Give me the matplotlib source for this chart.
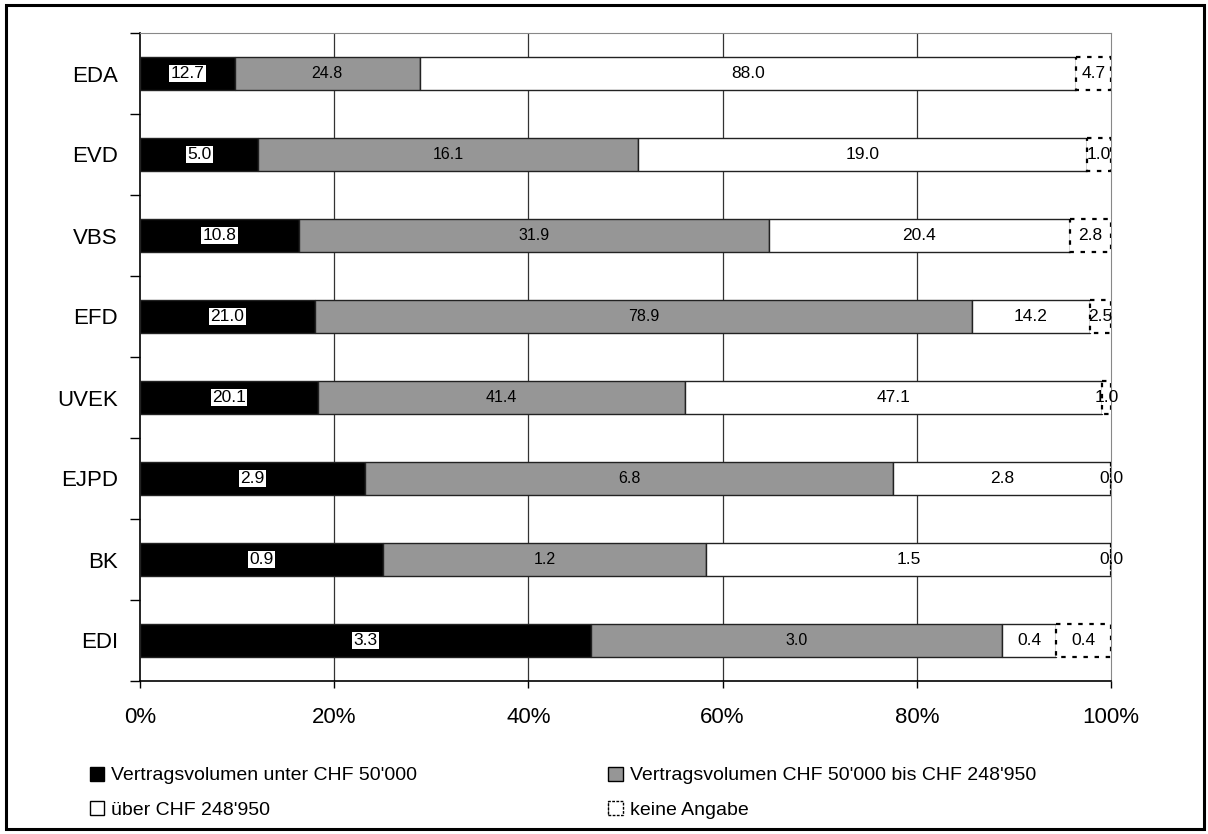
import numpy as np
import matplotlib.pyplot as plt
from matplotlib.patches import Patch, Rectangle

plt.rcParams['font.family'] = ['Liberation Sans', 'DejaVu Sans']

# Departemente (von oben nach unten)
depts = ["EDA", "EVD", "VBS", "EFD", "UVEK", "EJPD", "BK", "EDI"]

# Werte je Kategorie
unter_50k = [12.7, 5.0, 10.8, 21.0, 20.1, 2.9, 0.9, 3.3]
bis_248k = [24.8, 16.1, 31.9, 78.9, 41.4, 6.8, 1.2, 3.0]
ueber_248k = [88.0, 19.0, 20.4, 14.2, 47.1, 2.8, 1.5, 0.4]
keine = [4.7, 1.0, 2.8, 2.5, 1.0, 0.0, 0.0, 0.4]

series = [unter_50k, bis_248k, ueber_248k, keine]
names = ["Vertragsvolumen unter CHF 50'000",
         "Vertragsvolumen CHF 50'000 bis CHF 248'950",
         "über CHF 248'950",
         "keine Angabe"]

vals = np.array(series)
pct = vals / vals.sum(axis=0) * 100

fig = plt.figure(figsize=(12.08, 8.34), dpi=100)
ax = fig.add_axes([140/1208, 1 - 681/834, 971/1208, 648/834])

y = np.arange(len(depts))
h = 0.41
left = np.zeros(len(depts))
faces = ["black", "#969696", "white", "white"]
for k in range(4):
    if k == 3:
        ax.barh(y, pct[k], h, left=left, color="white", edgecolor="black",
                linewidth=1.6, linestyle=(0, (2, 3)), zorder=3)
    else:
        ax.barh(y, pct[k], h, left=left, color=faces[k], edgecolor="#222222",
                linewidth=1.0, zorder=3)
    for i in range(len(depts)):
        xc = left[i] + pct[k][i] / 2
        if k == 0:
            ax.text(xc, y[i], f"{vals[k][i]:.1f}", ha="center", va="center", fontsize=12.5,
                    color="black", zorder=5,
                    bbox=dict(facecolor="white", edgecolor="none", pad=1.0))
        else:
            ax.text(xc, y[i], f"{vals[k][i]:.1f}", ha="center", va="center",
                    fontsize=11.5 if k == 1 else 12.5, color="black", zorder=5)
    left = left + pct[k]

ax.set_xlim(0, 100)
ax.set_ylim(len(depts) - 0.5, -0.5)
ax.set_xticks([0, 20, 40, 60, 80, 100])
ax.set_xticklabels(["0%", "20%", "40%", "60%", "80%", "100%"], fontsize=16)
ax.tick_params(axis="x", length=5, width=1, pad=14, colors="black")

ax.set_yticks(np.arange(-0.5, len(depts), 1.0))
ax.set_yticklabels([])
ax.set_yticks(y, minor=True)
ax.set_yticklabels(depts, minor=True, fontsize=16)
ax.tick_params(axis="y", which="major", length=7, width=1)
ax.tick_params(axis="y", which="minor", length=0, pad=16)

for xv in [20, 40, 60, 80]:
    ax.axvline(xv, color="#333333", linewidth=0.9, zorder=1)
ax.spines["top"].set_color("#888888")
ax.spines["right"].set_color("#888888")
ax.spines["left"].set_linewidth(1.2)
ax.spines["bottom"].set_linewidth(1.2)

handles = [Patch(facecolor="black", edgecolor="black"),
           Patch(facecolor="#969696", edgecolor="black"),
           Patch(facecolor="white", edgecolor="black"),
           Patch(facecolor="white", edgecolor="black", hatch="|", linestyle=(0, (2, 1)))]
order = [0, 2, 1, 3]
fig.legend([handles[i] for i in order], [names[i] for i in order],
           loc="upper left", bbox_to_anchor=(72/1208, 1 - 749/834), ncol=2,
           frameon=False, fontsize=14, handlelength=0.75, handleheight=0.75,
           handletextpad=0.35, columnspacing=9.85, labelspacing=0.85)

fig.patches.append(Rectangle((6/1208, 5/834), 1198/1208, 824/834, transform=fig.transFigure,
                             fill=False, edgecolor="black", linewidth=2.2))

fig.savefig("out.png", dpi=100)
